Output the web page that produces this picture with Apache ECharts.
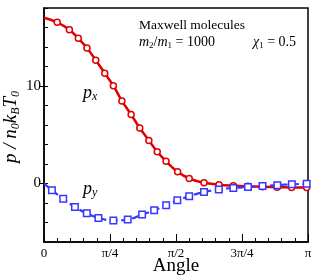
<!DOCTYPE html>
<html><head><meta charset="utf-8">
<script src="https://cdn.jsdelivr.net/npm/echarts@6/dist/echarts.min.js"></script>
<style>html,body{margin:0;padding:0;background:#fff}#c{width:315px;height:280px}</style>
</head><body><div id="c"></div>
<script>
// angles in degrees (0..180 = 0..π)
const pxLineX = [0, 9.0, 17.3, 23.4, 29.3, 35.3, 41.4, 47.3, 53.1, 59.4, 65.3, 71.5, 77.2, 83.2, 91.1, 99.0, 109.1, 119.3, 129.1, 139.0, 148.9, 158.9, 168.8, 179.1, 180];
const pxLineY = [17.0, 16.53, 15.77, 14.89, 13.89, 12.65, 11.32, 10.03, 8.47, 7.07, 5.69, 4.42, 3.26, 2.29, 1.20, 0.51, 0.07, -0.12, -0.22, -0.29, -0.34, -0.38, -0.41, -0.42, -0.42];
const pyLineX = [0, 5.4, 13.1, 21.1, 29.2, 37.1, 47.3, 57.1, 66.9, 75.1, 83.3, 90.9, 99.0, 109.1, 119.2, 129.1, 139.1, 149.0, 159.1, 169.0, 179.1, 180];
const pyLineY = [0, -0.69, -1.57, -2.42, -3.06, -3.53, -3.79, -3.70, -3.19, -2.75, -2.24, -1.73, -1.31, -0.87, -0.62, -0.46, -0.36, -0.26, -0.17, -0.08, -0.02, 0.0];
const xTickVals = [0, 45, 90, 135, 180];
const xTickLabels = ['0', 'π/4', 'π/2', '3π/4', 'π'];
const yTickVals = [0, 10];

const RED = '#e00000', BLUE = '#3636ff';
const serif = '"Liberation Serif", "DejaVu Serif", serif';

function toData(xs, ys) {
  return xs.map((x, i) => {
    const hide = (i === 0 || i === xs.length - 1);
    return hide ? { value: [x, ys[i]], symbolSize: 0 } : [x, ys[i]];
  });
}

const chart = echarts.init(document.getElementById('c'));
chart.setOption({
  animation: false,
  grid: { left: 44, right: 7, top: 8, bottom: 38, show: true, borderColor: '#000', borderWidth: 1.5,
    backgroundColor: 'transparent', containLabel: false, outerBoundsMode: 'none' },
  xAxis: [
    { type: 'value', min: 0, max: 180, interval: 9, position: 'bottom',
      axisLine: { show: true, onZero: false, lineStyle: { color: '#000', width: 1.5 } },
      axisTick: { show: true, inside: true, length: 4, lineStyle: { color: '#000' } },
      axisLabel: { show: false }, splitLine: { show: false } },
    { type: 'value', min: 0, max: 180, interval: 45, position: 'bottom',
      axisLine: { show: false, onZero: false },
      axisTick: { show: true, inside: true, length: 8, lineStyle: { color: '#000' } },
      axisLabel: { show: true, fontFamily: serif, fontSize: 13, color: '#000', margin: 5, verticalAlign: 'top',
        formatter: v => { const k = xTickVals.indexOf(v); return k >= 0 ? xTickLabels[k] : ''; } },
      splitLine: { show: false } }
  ],
  yAxis: [
    { type: 'value', min: -6, max: 18, interval: 2,
      axisLine: { show: true, onZero: false, lineStyle: { color: '#000', width: 1.5 } },
      axisTick: { show: true, inside: true, length: 4, lineStyle: { color: '#000' } },
      axisLabel: { show: false }, splitLine: { show: false } },
    { type: 'value', min: -6, max: 18, position: 'left', interval: 2,
      axisLine: { show: false, onZero: false },
      axisTick: { show: true, inside: false, length: 4, customValues: yTickVals, lineStyle: { color: '#000' } },
      axisLabel: { show: true, customValues: yTickVals, fontFamily: serif, fontSize: 15, color: '#000', margin: 3 },
      splitLine: { show: false } }
  ],
  graphic: [
    { type: 'text', x: 176, y: 266,
      style: { text: 'Angle', font: '19px ' + serif, fill: '#000', align: 'center', verticalAlign: 'middle' } },
    { type: 'text', left: 139, top: 18,
      style: { text: 'Maxwell molecules', font: '13.5px ' + serif, fill: '#000' } },
    { type: 'text', left: 139, top: 35,
      style: { text: '{i|m}{s|2}{n|/}{i|m}{s|1}{n| = 1000}', fill: '#000',
        rich: {
          i: { fontFamily: serif, fontStyle: 'italic', fontSize: 14, verticalAlign: 'middle', lineHeight: 16 },
          n: { fontFamily: serif, fontSize: 14, verticalAlign: 'middle', lineHeight: 16 },
          s: { fontFamily: serif, fontSize: 9, verticalAlign: 'bottom', lineHeight: 12 }
        } } },
    { type: 'text', left: 253, top: 35,
      style: { text: '{i|χ}{s|1}{n| = 0.5}', fill: '#000',
        rich: {
          i: { fontFamily: serif, fontStyle: 'italic', fontSize: 14, verticalAlign: 'middle', lineHeight: 16 },
          n: { fontFamily: serif, fontSize: 14, verticalAlign: 'middle', lineHeight: 16 },
          s: { fontFamily: serif, fontSize: 9, verticalAlign: 'bottom', lineHeight: 12 }
        } } },
    { type: 'text', left: 83, top: 84,
      style: { text: '{i|p}{s|x}', rich: {
        i: { fontFamily: serif, fontStyle: 'italic', fontSize: 18, verticalAlign: 'middle', lineHeight: 20 },
        s: { fontFamily: serif, fontStyle: 'italic', fontSize: 12, verticalAlign: 'bottom', lineHeight: 14 } } } },
    { type: 'text', left: 83, top: 180,
      style: { text: '{i|p}{s|y}', rich: {
        i: { fontFamily: serif, fontStyle: 'italic', fontSize: 18, verticalAlign: 'middle', lineHeight: 20 },
        s: { fontFamily: serif, fontStyle: 'italic', fontSize: 12, verticalAlign: 'bottom', lineHeight: 14 } } } },
    { type: 'text', x: 0, y: 163, rotation: Math.PI / 2,
      style: { text: '{i|p / n}{s|0}{i|k}{s|B}{i|T}{s|0}', rich: {
        i: { fontFamily: serif, fontStyle: 'italic', fontSize: 19, verticalAlign: 'middle', lineHeight: 22 },
        s: { fontFamily: serif, fontStyle: 'italic', fontSize: 12, verticalAlign: 'bottom', lineHeight: 14 } } } }
  ],
  series: [
    { type: 'line', xAxisIndex: 0, yAxisIndex: 0, data: toData(pxLineX, pxLineY), smooth: 0.4,
      lineStyle: { color: RED, width: 2.5 }, symbol: 'circle', symbolSize: 6,
      itemStyle: { color: '#fff', borderColor: RED, borderWidth: 1.5 }, z: 3 },
    { type: 'line', xAxisIndex: 0, yAxisIndex: 0, data: toData(pyLineX, pyLineY), smooth: 0.4,
      lineStyle: { color: BLUE, width: 2.2, type: [7, 4] }, symbol: 'rect', symbolSize: 6.5,
      itemStyle: { color: '#fff', borderColor: BLUE, borderWidth: 1.5 }, z: 4 }
  ]
});
</script></body></html>
